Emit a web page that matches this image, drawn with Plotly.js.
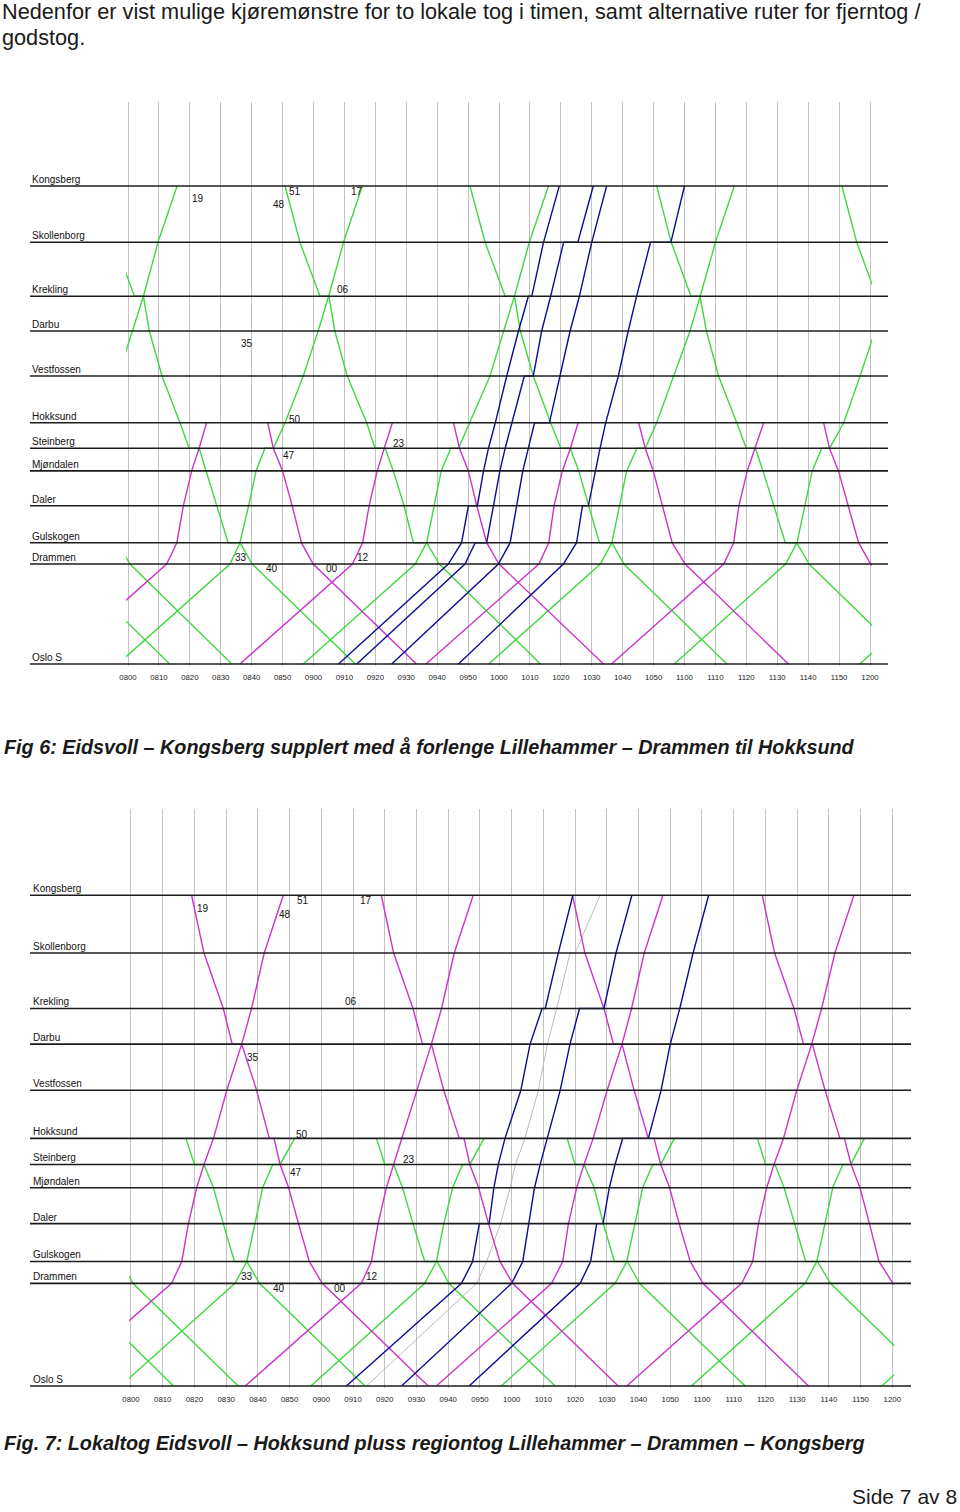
<!DOCTYPE html>
<html>
<head>
<meta charset="utf-8">
<script src="https://cdn.plot.ly/plotly-3.0.1.min.js"></script>
<style>html,body{margin:0;padding:0;background:#fff;}#chart{width:960px;height:1512px;}</style>
</head>
<body>
<div id="chart"></div>
<script>
// ---------------- DATA ----------------
// Stations (bottom to top) and their relative line positions (distance scale of the diagram)
const stations   = ["Oslo S","Drammen","Gulskogen","Daler","Mjøndalen","Steinberg","Hokksund","Vestfossen","Darbu","Krekling","Skollenborg","Kongsberg"];
const stationPos = [0, 100, 121.3, 158.2, 193.1, 215.8, 241.2, 288, 333, 367.7, 421.7, 478];

// Time axis tick labels (hhmm)
const tickLabels = ["0800","0810","0820","0830","0840","0850","0900","0910","0920","0930","0940","0950",
                    "1000","1010","1020","1030","1040","1050","1100","1110","1120","1130","1140","1150","1200"];

// Small time labels written in the diagrams: text, minutes after 08:00, diagram height
const timeLabelText = ["19","48","51","17","06","35","50","23","47","33","40","00","12"];
const timeLabelT    = [22.7, 48.7, 54.1, 74.0, 69.4, 38.6, 54.0, 87.7, 52.0, 36.5, 46.5, 65.9, 75.9];
const timeLabelY    = [465.3, 459.5, 472.6, 472.6, 374.8, 320.1, 244.5, 221.0, 208.2, 107.0, 95.3, 95.3, 107.0];

// ===== Fig 6 (times = minutes after 08:00) =====
const f6RouteGreenSouth = ["Kongsberg","Skollenborg","Krekling","Krekling","Darbu","Vestfossen","Hokksund","Steinberg","Steinberg","Mjøndalen","Daler","Gulskogen","Gulskogen","Drammen","Oslo S"];
const f6GreenSouth = [
  [null,null,null,null,null,null,null,null,null,null,null,null,null,-19.5,13.5],
  [-9.3,-4.4,2.1,5.0,6.9,11.0,16.8,19.8,23.0,25.2,28.7,32.4,36.2,40.2,73.5],
  [50.8,55.6,62.1,65.0,66.9,70.9,77.2,79.9,83.2,85.8,89.3,92.3,96.6,100.7,133.4],
  [110.6,115.5,122.0,125.0,126.9,131.1,136.7,140.0,143.0,145.8,149.0,152.5,156.5,160.4,193.7],
  [171.0,175.7,182.1,185.0,187.1,191.0,196.9,200.0,202.9,205.4,208.9,212.6,216.3,220.3,253.5],
  [230.9,235.7,242.1,null,null,null,null,null,null,null,null,null,null,null,null]
];
const f6RouteGreenNorth = ["Oslo S","Drammen","Gulskogen","Daler","Mjøndalen","Steinberg","Steinberg","Hokksund","Vestfossen","Darbu","Krekling","Skollenborg","Kongsberg"];
const f6GreenNorth = [
  [null,null,null,null,null,null,null,null,-3.2,1.5,5.0,9.7,15.9],
  [-3.3,33.0,36.2,39.0,41.4,44.3,47.0,50.8,56.7,61.5,64.9,69.7,75.8],
  [56.7,92.9,96.6,98.9,101.3,104.4,106.9,110.5,117.1,121.5,125.0,129.8,136.0],
  [116.7,152.8,156.5,158.9,161.3,164.6,167.3,171.0,176.6,181.8,185.1,190.0,196.1],
  [176.7,212.7,216.4,218.9,221.3,224.4,226.9,231.5,236.8,241.6,null,null,null],
  [236.7,272.7,null,null,null,null,null,null,null,null,null,null,null]
];
const f6RouteExtra = ["Gulskogen","Drammen","Oslo S"];
const f6Extra = [[-3.3,0.6,33.6]];
const f6RouteMagNorth = ["Oslo S","Drammen","Gulskogen","Daler","Mjøndalen","Steinberg","Hokksund"];
const f6MagNorth = [
  [-23.8,12.5,15.8,17.9,20.6,23.0,25.4],
  [36.2,72.6,75.9,78.0,80.6,82.9,85.5],
  [96.4,132.9,136.1,137.8,140.5,143.1,145.6],
  [156.4,192.7,195.9,197.6,200.3,202.9,205.6]
];
const f6RouteMagSouth = ["Hokksund","Steinberg","Mjøndalen","Daler","Gulskogen","Drammen","Oslo S"];
const f6MagSouth = [
  [45.2,47.0,50.0,53.1,56.1,59.9,93.3],
  [105.3,107.2,110.1,112.8,116.0,120.0,153.8],
  [165.2,167.3,169.9,172.8,176.0,180.2,213.6],
  [225.0,226.9,229.8,233.0,236.3,240.2,273.5]
];
const f6RouteBlue = ["Oslo S","Drammen","Gulskogen","Gulskogen","Daler","Daler","Mjøndalen","Steinberg","Hokksund","Hokksund","Vestfossen","Vestfossen","Darbu","Krekling","Krekling","Skollenborg","Skollenborg","Kongsberg"];
const f6Blue = [
  [68.1,103.6,107.9,107.9,110.1,113.0,115.0,116.6,118.8,118.8,122.5,122.5,126.3,129.5,130.6,134.4,134.4,139.5],
  [74.0,109.0,112.3,116.0,118.2,118.2,120.3,122.0,124.1,124.1,128.2,131.1,133.8,136.7,136.7,140.9,145.5,150.5],
  [85.3,119.8,123.6,123.6,125.7,125.7,127.7,129.5,131.5,136.3,139.7,139.7,143.0,146.0,146.0,150.0,150.0,154.8],
  [106.9,140.8,145.1,145.1,147.0,148.9,151.1,152.7,154.5,154.5,158.6,158.6,161.8,164.5,164.5,169.0,175.6,180.0]
];

// ===== Fig 7 =====
const f7RouteMagSouth = ["Kongsberg","Skollenborg","Krekling","Darbu","Darbu","Vestfossen","Hokksund","Hokksund","Steinberg","Mjøndalen","Daler","Gulskogen","Drammen","Oslo S"];
const f7MagSouth = [
  [19.1,23.0,29.1,31.9,34.9,39.6,43.6,45.1,47.0,49.7,52.8,56.2,60.3,93.7],
  [78.9,82.8,88.9,91.9,94.7,98.6,103.5,105.0,106.8,109.6,112.7,116.3,120.3,153.6],
  [139.2,143.1,149.1,152.1,154.8,158.6,163.1,164.9,167.0,169.8,172.8,176.3,180.3,213.6],
  [199.0,202.9,209.0,212.0,214.8,218.8,223.5,224.9,227.0,229.8,232.8,235.8,240.2,273.6]
];
const f7RouteMagNorth = ["Oslo S","Drammen","Gulskogen","Daler","Mjøndalen","Steinberg","Hokksund","Vestfossen","Darbu","Krekling","Skollenborg","Kongsberg"];
const f7MagNorth = [
  [-24.0,12.8,16.0,18.1,20.7,23.0,26.0,30.2,34.9,38.0,42.0,48.0],
  [36.0,72.6,75.8,77.9,80.5,82.8,85.3,90.2,94.7,97.9,101.9,107.9],
  [96.3,132.6,136.1,137.9,140.5,142.8,145.7,150.1,154.8,157.8,161.8,167.7],
  [156.3,192.5,196.0,197.8,200.4,202.7,205.7,209.9,214.6,217.7,221.9,227.9]
];
const f7RouteGreenNorth = ["Oslo S","Drammen","Gulskogen","Daler","Mjøndalen","Steinberg","Steinberg","Hokksund"];
const f7GreenNorth = [
  [-3.3,32.8,36.5,39.1,41.5,44.7,47.0,51.6],
  [56.7,92.6,96.3,98.6,101.4,104.5,106.8,111.3],
  [116.7,152.6,156.3,158.9,161.3,164.5,167.0,171.3],
  [176.7,212.5,216.2,218.8,221.2,224.4,226.9,231.2],
  [236.7,272.7,null,null,null,null,null,null]
];
const f7RouteGreenSouth = ["Hokksund","Steinberg","Steinberg","Mjøndalen","Daler","Gulskogen","Gulskogen","Drammen","Oslo S"];
const f7GreenSouth = [
  [null,null,null,null,null,null,null,-19.5,13.4],
  [17.3,20.0,23.0,26.0,29.1,32.6,36.5,40.5,73.8],
  [77.4,80.0,82.8,85.6,88.9,92.6,96.5,100.2,133.7],
  [137.5,140.0,142.8,146.0,148.9,152.4,156.5,160.3,193.6],
  [197.5,200.0,203.0,205.9,209.2,212.7,216.4,220.5,253.7]
];
const f7RouteExtra = ["Gulskogen","Drammen","Oslo S"];
const f7Extra = [[-3.3,0.6,33.8]];
const f7RouteBlue = ["Oslo S","Drammen","Gulskogen","Daler","Daler","Mjøndalen","Steinberg","Hokksund","Hokksund","Vestfossen","Darbu","Krekling","Krekling","Skollenborg","Kongsberg"];
const f7Blue = [
  [67.9,104.2,107.7,109.8,112.9,114.4,115.8,117.9,117.9,122.9,125.8,129.6,130.6,134.7,139.3],
  [85.3,120.0,123.5,125.3,125.3,127.2,129.0,131.3,131.3,135.3,138.4,141.4,149.1,152.9,157.9],
  [106.6,141.6,144.9,146.8,148.8,150.8,152.6,155.0,163.1,167.1,170.0,173.0,173.0,177.2,182.1]
];
const f7RouteGrey = ["Oslo S","Drammen","Gulskogen","Daler","Mjøndalen","Steinberg","Hokksund","Vestfossen","Darbu","Krekling","Skollenborg","Skollenborg","Kongsberg"];
const f7Grey = [[74.2,109.0,112.1,116.5,119.5,121.2,124.2,128.4,131.3,134.2,138.4,140.0,147.9]];

// ---------------- STYLE / LAYOUT ----------------
const GREEN = "#3fd83f", MAGENTA = "#cc33cc", BLUE = "#0c0c96", GREY = "#b4b4b4";
const FONT = "Liberation Sans, Arial, sans-serif";
const W = 960, H = 1512;
const tickVals = tickLabels.map(s => (parseInt(s.slice(0,2),10) * 60 + parseInt(s.slice(2),10)) - 480);
const posOf = name => stationPos[stations.indexOf(name)];

const traces = [];
function addGroup(route, timesList, color, width, xa, ya) {
  const yv = route.map(posOf);
  timesList.forEach(times => {
    traces.push({type: "scatter", mode: "lines", x: times, y: yv, xaxis: xa, yaxis: ya,
      line: {color: color, width: width}, hoverinfo: "skip", showlegend: false, connectgaps: false});
  });
}
// Fig 6
addGroup(f6RouteGreenSouth, f6GreenSouth, GREEN, 1.4, "x", "y");
addGroup(f6RouteGreenNorth, f6GreenNorth, GREEN, 1.4, "x", "y");
addGroup(f6RouteExtra, f6Extra, GREEN, 1.4, "x", "y");
addGroup(f6RouteMagNorth, f6MagNorth, MAGENTA, 1.4, "x", "y");
addGroup(f6RouteMagSouth, f6MagSouth, MAGENTA, 1.4, "x", "y");
addGroup(f6RouteBlue, f6Blue, BLUE, 1.4, "x", "y");
// Fig 7
addGroup(f7RouteGrey, f7Grey, GREY, 0.9, "x2", "y2");
addGroup(f7RouteGreenNorth, f7GreenNorth, GREEN, 1.4, "x2", "y2");
addGroup(f7RouteGreenSouth, f7GreenSouth, GREEN, 1.4, "x2", "y2");
addGroup(f7RouteExtra, f7Extra, GREEN, 1.4, "x2", "y2");
addGroup(f7RouteMagSouth, f7MagSouth, MAGENTA, 1.4, "x2", "y2");
addGroup(f7RouteMagNorth, f7MagNorth, MAGENTA, 1.4, "x2", "y2");
addGroup(f7RouteBlue, f7Blue, BLUE, 1.4, "x2", "y2");

// geometry of the two diagrams (pixels)
const pad = 0.6;
const d1 = {x0: 128, x1: 870, yTop: 102, yOslo: 664, lineL: 30, lineR: 888, labelX: 30};
const d2 = {x0: 131, x1: 892.3, yTop: 809, yOslo: 1386, lineL: 30, lineR: 911, labelX: 31};
function xDomain(d) { const k = (d.x1 - d.x0) / 240; return [(d.x0 - pad * k) / W, (d.x1 + pad * k) / W]; }
function yGeom(d) {
  const k = (d.yOslo - d.yTop) / 562; // px per unit (top of grid = 562 units)
  const lo = -2;
  return {domain: [1 - (d.yOslo - lo * k) / H, 1 - d.yTop / H], range: [lo, 562]};
}
const g1 = yGeom(d1), g2 = yGeom(d2);

function xAxis(d, anchor) {
  return {domain: xDomain(d), range: [-pad, 240 + pad], anchor: anchor, tickmode: "array",
    tickvals: tickVals, ticktext: tickLabels, showgrid: true, gridcolor: "#c2c2c2", gridwidth: 1,
    zeroline: false, showline: false, ticks: "outside", ticklen: 4, tickcolor: "rgba(0,0,0,0)",
    tickfont: {family: FONT, size: 7.8, color: "#222"}, fixedrange: true};
}
function yAxis(g, anchor) {
  return {domain: g.domain, range: g.range, anchor: anchor, showgrid: false, zeroline: false,
    showticklabels: false, ticks: "", showline: false, fixedrange: true};
}

const shapes = [], annotations = [];
function diagramDecor(d, ya, xa) {
  stations.forEach((s, i) => {
    shapes.push({type: "line", xref: "paper", yref: ya, x0: d.lineL / W, x1: d.lineR / W,
      y0: stationPos[i], y1: stationPos[i], line: {color: "#1c1c1c", width: 1.6}, layer: "above"});
    annotations.push({xref: "paper", yref: ya, x: d.labelX / W, y: stationPos[i], text: s,
      xanchor: "left", yanchor: "bottom", yshift: -1, showarrow: false,
      font: {family: FONT, size: 10, color: "#111"}});
  });
  timeLabelText.forEach((t, i) => {
    annotations.push({xref: xa, yref: ya, x: timeLabelT[i], y: timeLabelY[i], text: t,
      xanchor: "center", yanchor: "middle", showarrow: false,
      font: {family: FONT, size: 10, color: "#111"}});
  });
}
diagramDecor(d1, "y", "x");
diagramDecor(d2, "y2", "x2");

function pageText(text, x, y, size, xanchor) {
  annotations.push({xref: "paper", yref: "paper", x: x / W, y: 1 - y / H, text: text,
    xanchor: xanchor || "left", yanchor: "middle", showarrow: false, align: "left",
    font: {family: FONT, size: size, color: "#1a1a1a"}});
}
pageText("Nedenfor er vist mulige kjøremønstre for to lokale tog i timen, samt alternative ruter for fjerntog /", 0, 12, 21.7);
pageText("godstog.", 0, 38, 21.7);
pageText("<b><i>Fig 6: Eidsvoll – Kongsberg supplert med å forlenge Lillehammer – Drammen til Hokksund</i></b>", 2, 747, 19.8);
pageText("<b><i>Fig. 7: Lokaltog Eidsvoll – Hokksund pluss regiontog Lillehammer – Drammen – Kongsberg</i></b>", 2, 1443, 19.8);
pageText("Side 7 av 8", 959, 1496, 21, "right");

const layout = {
  width: W, height: H, margin: {l: 0, r: 0, t: 0, b: 0},
  paper_bgcolor: "#ffffff", plot_bgcolor: "rgba(0,0,0,0)", showlegend: false,
  xaxis: xAxis(d1, "y"), yaxis: yAxis(g1, "x"),
  xaxis2: xAxis(d2, "y2"), yaxis2: yAxis(g2, "x2"),
  shapes: shapes, annotations: annotations
};
Plotly.newPlot("chart", traces, layout, {displayModeBar: false, staticPlot: true});
</script>
</body>
</html>
